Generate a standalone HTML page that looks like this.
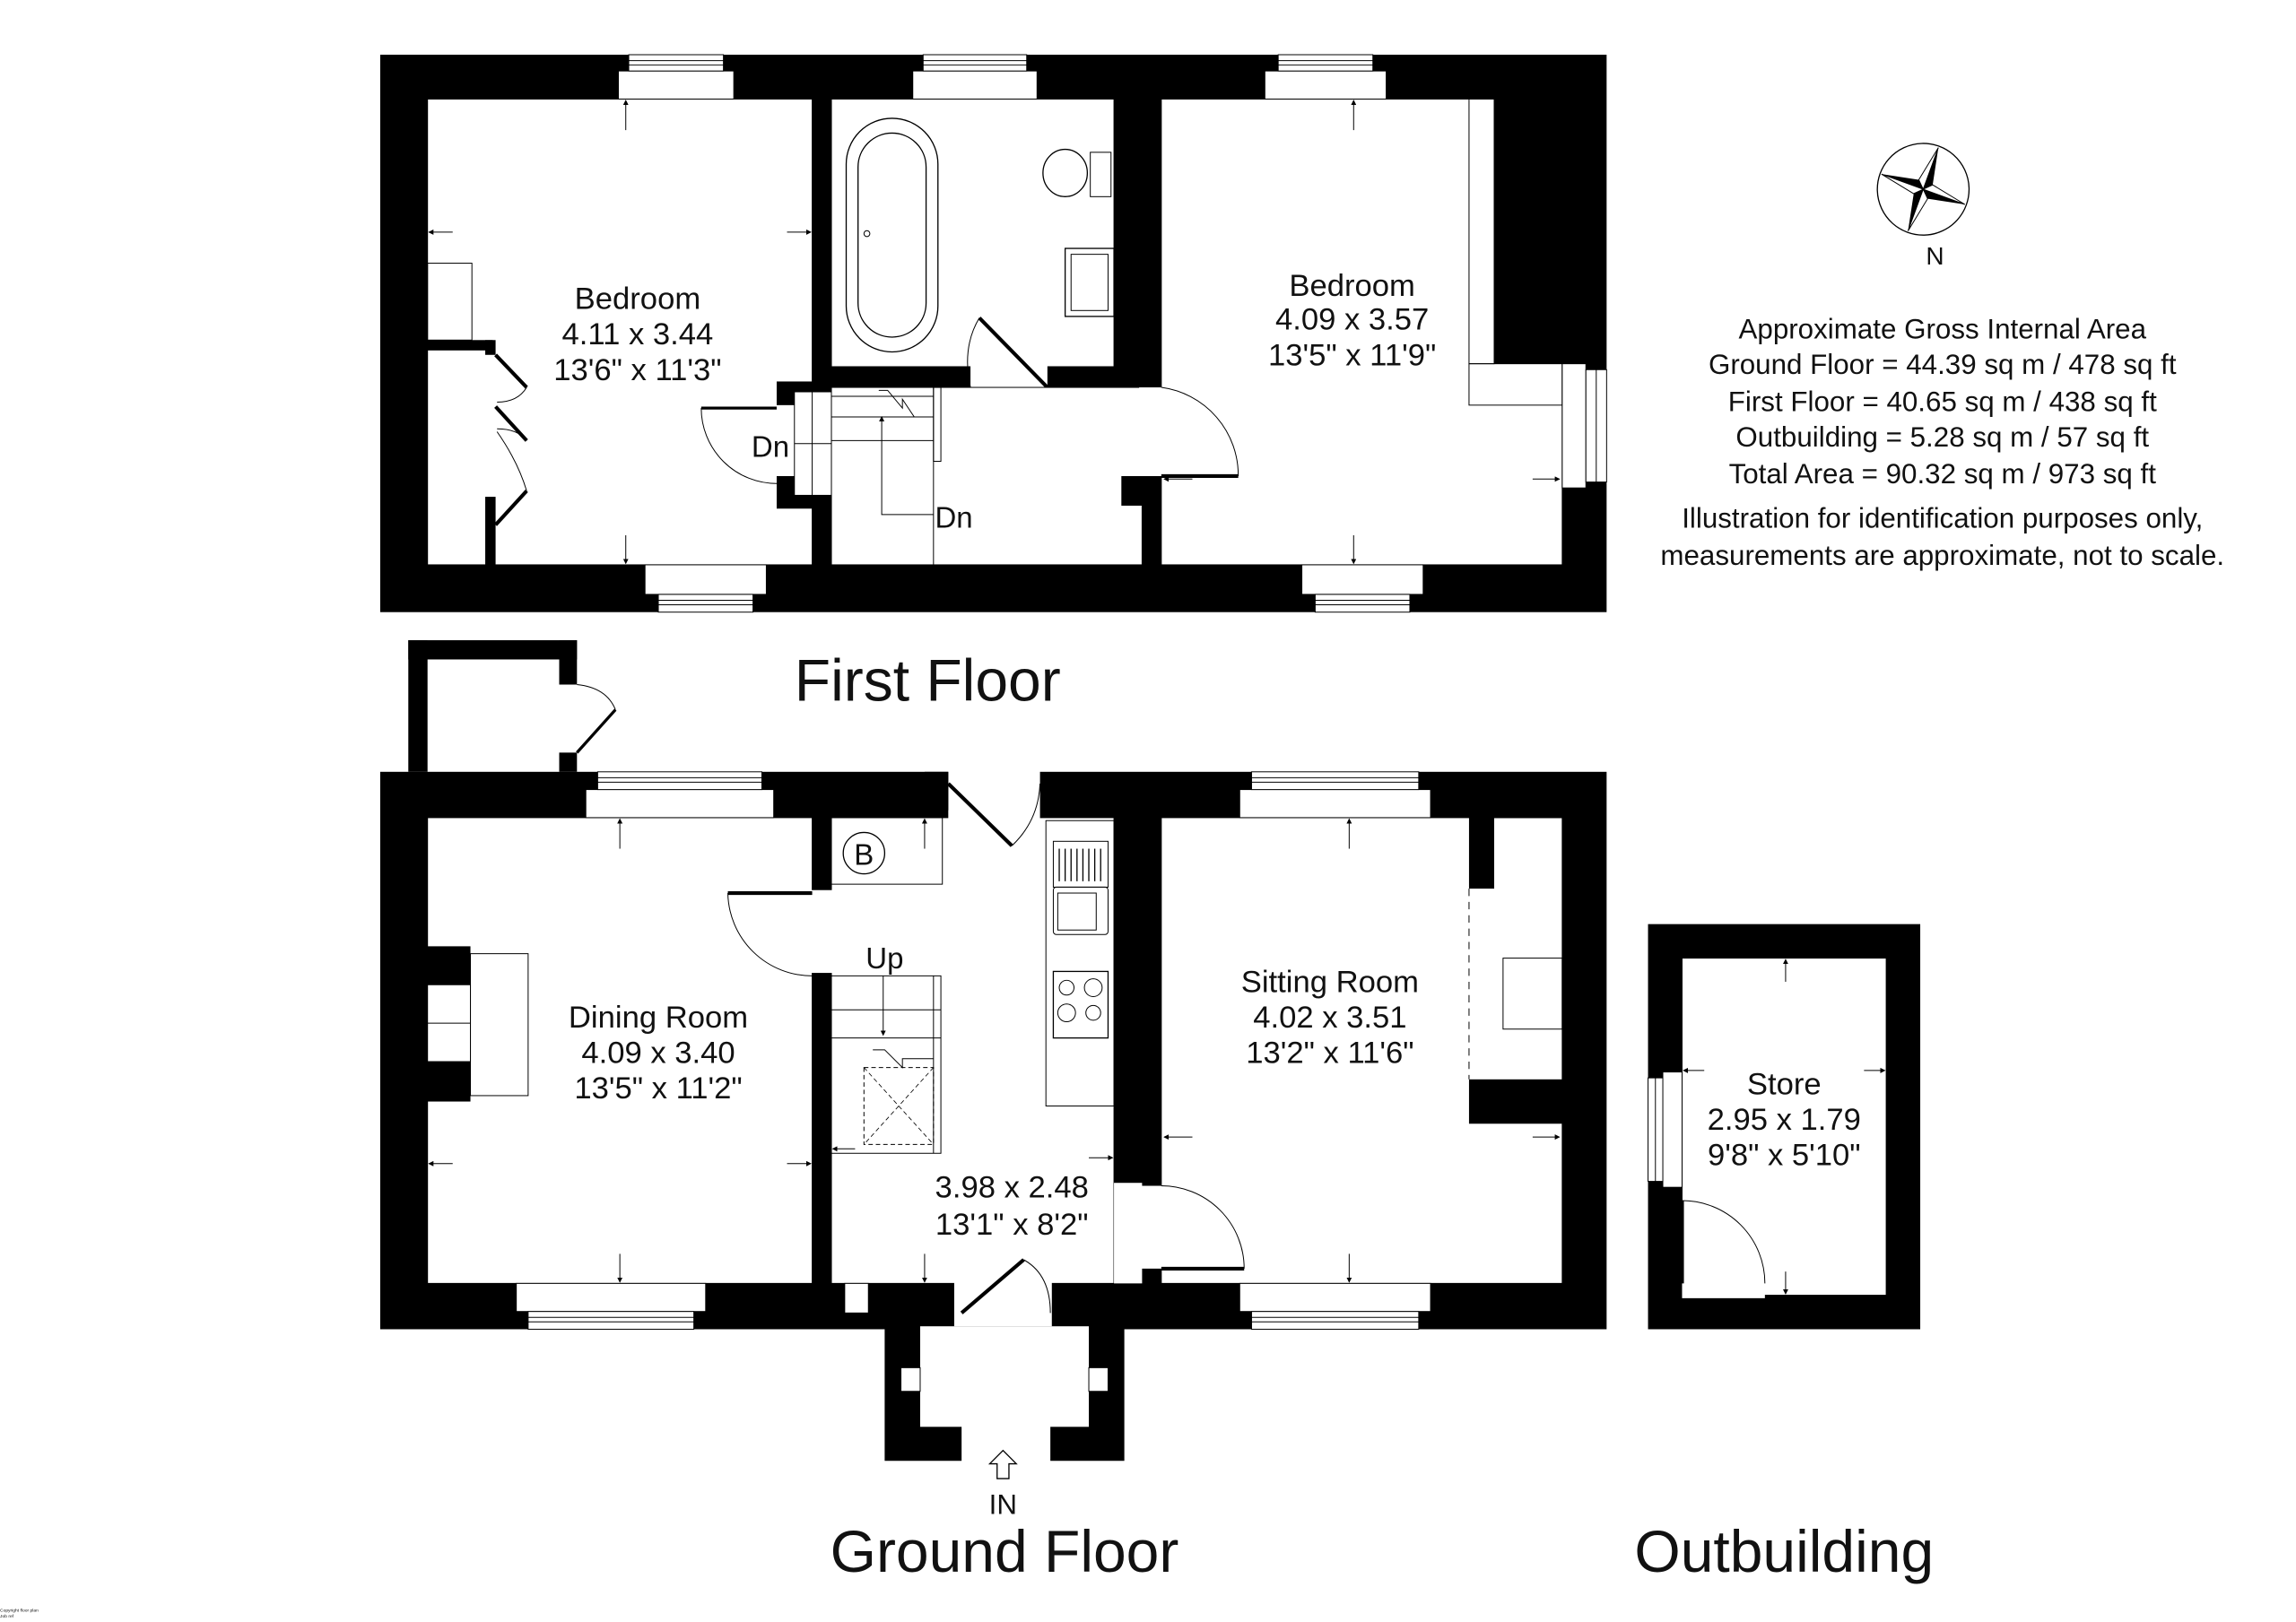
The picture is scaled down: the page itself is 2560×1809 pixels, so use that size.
<!DOCTYPE html>
<html><head><meta charset="utf-8"><style>
html,body{margin:0;padding:0;background:#fff;width:2560px;height:1809px;overflow:hidden}
svg{display:block}
text{font-family:"Liberation Sans",sans-serif;fill:#111}
</style></head><body>
<svg width="2560" height="1809" viewBox="0 0 1552 1097" preserveAspectRatio="none" xmlns="http://www.w3.org/2000/svg">
<defs>
<marker id="ah" markerWidth="6" markerHeight="6" refX="5" refY="3" orient="auto"><path d="M0,0 L6,3 L0,6 z" fill="#000"/></marker>
</defs>
<rect width="1552" height="1097" fill="#fff"/>

<!-- ===== FIRST FLOOR ===== -->
<rect x="257" y="37" width="829" height="377" fill="#000"/>
<rect x="289" y="67" width="260" height="315" fill="#fff"/>
<rect x="289" y="67" width="260" height="315" fill="none" stroke="#000" stroke-width="0.6"/>
<rect x="289" y="230" width="44" height="7" fill="#000"/>
<rect x="328" y="230" width="7" height="10" fill="#000"/>
<rect x="328" y="336" width="7" height="46" fill="#000"/>
<rect x="289" y="178" width="30" height="52" fill="none" stroke="#000" stroke-width="0.6"/>
<path d="M335,240 L356,262 M335,275 L356,298 M335,355 L356,332" stroke="#000" stroke-width="2.5"/>
<path d="M356,262 Q350,272 336,272 M356,298 Q350,290 336,290 M356,332 Q350,312 336,292" stroke="#000" stroke-width="0.6" fill="none"/>
<rect x="525" y="258" width="24" height="16" fill="#000"/>
<rect x="525" y="322" width="24" height="22" fill="#000"/>
<rect x="537" y="265" width="25" height="70" fill="#fff" stroke="#000" stroke-width="0.6"/>
<line x1="549" y1="265" x2="549" y2="335" stroke="#000" stroke-width="0.6"/>
<line x1="537" y1="300" x2="562" y2="300" stroke="#000" stroke-width="0.6"/>
<path d="M474,276 L525,276" stroke="#000" stroke-width="2"/>
<path d="M474,276 A51,51 0 0 0 525,327" stroke="#000" stroke-width="0.6" fill="none"/>
<rect x="562" y="67" width="191" height="181" fill="#fff"/>
<rect x="562" y="67" width="191" height="181" fill="none" stroke="#000" stroke-width="0.6"/>
<rect x="572" y="80" width="62" height="158" rx="31" fill="none" stroke="#000" stroke-width="0.8"/>
<rect x="580" y="90" width="46" height="138" rx="23" fill="none" stroke="#000" stroke-width="0.8"/>
<circle cx="586" cy="158" r="2" fill="none" stroke="#000" stroke-width="0.6"/>
<ellipse cx="720" cy="117" rx="15" ry="16" fill="none" stroke="#000" stroke-width="0.8"/>
<rect x="737" y="103" width="14" height="30" fill="none" stroke="#000" stroke-width="0.6"/>
<rect x="720" y="168" width="33" height="46" fill="none" stroke="#000" stroke-width="0.8"/>
<rect x="724" y="172" width="25" height="38" fill="none" stroke="#000" stroke-width="0.6"/>
<rect x="656" y="246" width="52" height="18" fill="#fff"/>
<line x1="662" y1="215" x2="708" y2="262" stroke="#000" stroke-width="2.5"/>
<path d="M662,215 Q650,235 656,262" stroke="#000" stroke-width="0.6" fill="none"/>
<rect x="562" y="262" width="210" height="120" fill="#fff"/>
<rect x="562" y="262" width="210" height="120" fill="none" stroke="#000" stroke-width="0.6"/>
<rect x="758" y="322" width="14" height="20" fill="#000"/>
<line x1="562" y1="268" x2="631" y2="268" stroke="#000" stroke-width="0.6"/>
<line x1="562" y1="282" x2="631" y2="282" stroke="#000" stroke-width="0.6"/>
<line x1="562" y1="298" x2="631" y2="298" stroke="#000" stroke-width="0.6"/>
<line x1="631" y1="262" x2="631" y2="382" stroke="#000" stroke-width="0.6"/>
<rect x="631" y="262" width="5" height="50" fill="none" stroke="#000" stroke-width="0.6"/>
<path d="M594,264 L600,264 L610,276 L610,270 L618,282" stroke="#000" stroke-width="0.6" fill="none"/>
<path d="M631,348 L596,348 L596,282" stroke="#000" stroke-width="0.6" fill="none" marker-end="url(#ah)"/>
<rect x="785" y="67" width="271" height="315" fill="#fff"/>
<rect x="785" y="67" width="271" height="315" fill="none" stroke="#000" stroke-width="0.6"/>
<rect x="1010" y="67" width="46" height="179" fill="#000"/>
<rect x="993" y="67" width="17" height="179" fill="none" stroke="#000" stroke-width="0.6"/>
<rect x="993" y="246" width="63" height="28" fill="none" stroke="#000" stroke-width="0.6"/>
<rect x="1056" y="246" width="16" height="84" fill="#fff" stroke="#000" stroke-width="0.6"/>
<rect x="1072" y="250" width="14" height="76" fill="#fff" stroke="#000" stroke-width="0.6"/>
<line x1="1079" y1="250" x2="1079" y2="326" stroke="#000" stroke-width="0.6"/>
<rect x="770" y="262" width="17" height="60" fill="#fff"/>
<line x1="785" y1="322" x2="837" y2="322" stroke="#000" stroke-width="2.5"/>
<path d="M785,262 A60,60 0 0 1 837,322" stroke="#000" stroke-width="0.6" fill="none"/>

<g fill="#fff" stroke="#000" stroke-width="0.6">
<rect x="418" y="48" width="78" height="19"/><rect x="425" y="37" width="64" height="11"/><line x1="425" y1="41" x2="489" y2="41"/><line x1="425" y1="44" x2="489" y2="44"/>
<rect x="617" y="48" width="84" height="19"/><rect x="624" y="37" width="70" height="11"/><line x1="624" y1="41" x2="694" y2="41"/><line x1="624" y1="44" x2="694" y2="44"/>
<rect x="855" y="48" width="82" height="19"/><rect x="864" y="37" width="64" height="11"/><line x1="864" y1="41" x2="928" y2="41"/><line x1="864" y1="44" x2="928" y2="44"/>
<rect x="436" y="382" width="82" height="20"/><rect x="445" y="402" width="64" height="12"/><line x1="445" y1="406" x2="509" y2="406"/><line x1="445" y1="409" x2="509" y2="409"/>
<rect x="880" y="382" width="82" height="20"/><rect x="889" y="402" width="64" height="12"/><line x1="889" y1="406" x2="953" y2="406"/><line x1="889" y1="409" x2="953" y2="409"/>
</g>
<g stroke="#000" stroke-width="0.6" marker-end="url(#ah)">
<line x1="423" y1="88" x2="423" y2="68"/><line x1="423" y1="362" x2="423" y2="381"/>
<line x1="306" y1="157" x2="290" y2="157"/><line x1="532" y1="157" x2="548" y2="157"/>
<line x1="915" y1="88" x2="915" y2="68"/><line x1="915" y1="362" x2="915" y2="381"/>
<line x1="806" y1="324" x2="787" y2="324"/><line x1="1036" y1="324" x2="1054" y2="324"/>
</g>
<g font-size="21" text-anchor="middle">
<text x="431" y="209">Bedroom</text><text x="431" y="233">4.11 x 3.44</text><text x="431" y="257">13'6" x 11'3"</text>
<text x="914" y="200">Bedroom</text><text x="914" y="223">4.09 x 3.57</text><text x="914" y="247">13'5" x 11'9"</text>
</g>
<text x="508" y="309" font-size="20">Dn</text>
<text x="632" y="357" font-size="20">Dn</text>
<text x="627" y="474" font-size="40" text-anchor="middle">First Floor</text>

<!-- ===== GROUND FLOOR ===== -->
<rect x="276" y="433" width="13" height="89" fill="#000"/>
<rect x="276" y="433" width="114" height="13" fill="#000"/>
<rect x="378" y="433" width="12" height="30" fill="#000"/>
<rect x="378" y="509" width="12" height="13" fill="#000"/>
<line x1="390" y1="509" x2="416" y2="480" stroke="#000" stroke-width="2"/>
<path d="M390,463 Q410,465 416,480" stroke="#000" stroke-width="0.6" fill="none"/>

<rect x="257" y="522" width="829" height="377" fill="#000"/>
<rect x="289" y="553" width="260" height="315" fill="#fff" stroke="#000" stroke-width="0.6"/>
<rect x="289" y="640" width="29" height="105" fill="#000"/>
<rect x="289" y="666" width="29" height="52" fill="#fff" stroke="#000" stroke-width="0.6"/>
<line x1="289" y1="692" x2="318" y2="692" stroke="#000" stroke-width="0.6"/>
<rect x="318" y="645" width="39" height="96" fill="none" stroke="#000" stroke-width="0.6"/>
<rect x="562" y="553" width="191" height="315" fill="#fff" stroke="#000" stroke-width="0.6"/>
<rect x="641" y="520" width="62" height="35" fill="#fff"/>
<rect x="625" y="522" width="16" height="26" fill="#000"/>
<line x1="641" y1="530" x2="684" y2="572" stroke="#000" stroke-width="2.5"/>
<path d="M684,572 Q702,555 703,530" stroke="#000" stroke-width="0.6" fill="none"/>
<rect x="562" y="553" width="75" height="45" fill="none" stroke="#000" stroke-width="0.6"/>
<circle cx="584" cy="577" r="14" fill="#fff" stroke="#000" stroke-width="0.8"/>
<text x="584" y="585" font-size="20" text-anchor="middle">B</text>
<rect x="547" y="602" width="17" height="56" fill="#fff"/>
<line x1="492" y1="604" x2="549" y2="604" stroke="#000" stroke-width="2.5"/>
<path d="M492,604 A57,57 0 0 0 549,660" stroke="#000" stroke-width="0.6" fill="none"/>
<rect x="562" y="660" width="74" height="120" fill="none" stroke="#000" stroke-width="0.6"/>
<line x1="562" y1="683" x2="636" y2="683" stroke="#000" stroke-width="0.6"/>
<line x1="562" y1="702" x2="636" y2="702" stroke="#000" stroke-width="0.6"/>
<line x1="631" y1="660" x2="631" y2="780" stroke="#000" stroke-width="0.6"/>
<path d="M597,660 L597,700" stroke="#000" stroke-width="0.6" marker-end="url(#ah)"/>
<path d="M590,710 L598,710 L610,722 L610,716 L631,716" stroke="#000" stroke-width="0.6" fill="none"/>
<rect x="584" y="722" width="47" height="52" fill="none" stroke="#000" stroke-width="0.6" stroke-dasharray="3,2"/>
<path d="M584,722 L631,774 M631,722 L584,774" stroke="#000" stroke-width="0.5" stroke-dasharray="3,2"/>
<rect x="707" y="555" width="46" height="193" fill="none" stroke="#000" stroke-width="0.6"/>
<rect x="712" y="569" width="37" height="31" fill="none" stroke="#000" stroke-width="0.6"/>
<g stroke="#000" stroke-width="0.8"><line x1="716" y1="574" x2="716" y2="596"/><line x1="720" y1="574" x2="720" y2="596"/><line x1="724" y1="574" x2="724" y2="596"/><line x1="728" y1="574" x2="728" y2="596"/><line x1="732" y1="574" x2="732" y2="596"/><line x1="736" y1="574" x2="736" y2="596"/><line x1="740" y1="574" x2="740" y2="596"/><line x1="744" y1="574" x2="744" y2="596"/></g>
<rect x="712" y="600" width="37" height="32" rx="2" fill="none" stroke="#000" stroke-width="0.6"/>
<rect x="715" y="604" width="26" height="25" fill="none" stroke="#000" stroke-width="0.6"/>
<rect x="712" y="657" width="37" height="45" fill="none" stroke="#000" stroke-width="0.8"/>
<circle cx="721" cy="668" r="5" fill="none" stroke="#000" stroke-width="0.6"/><circle cx="739" cy="668" r="6" fill="none" stroke="#000" stroke-width="0.6"/>
<circle cx="721" cy="685" r="6" fill="none" stroke="#000" stroke-width="0.6"/><circle cx="739" cy="685" r="5" fill="none" stroke="#000" stroke-width="0.6"/>
<!-- sitting -->
<rect x="785" y="553" width="271" height="315" fill="#fff" stroke="#000" stroke-width="0.6"/>
<rect x="993" y="553" width="17" height="48" fill="#000"/>
<path d="M1010,540 L1070,540 L1070,565 L1056,590 L1056,553" fill="#000"/>
<line x1="1010" y1="553" x2="1056" y2="553" stroke="#000" stroke-width="0.6"/>
<line x1="993" y1="601" x2="993" y2="730" stroke="#000" stroke-width="0.6" stroke-dasharray="5,4"/>
<rect x="1016" y="648" width="40" height="48" fill="none" stroke="#000" stroke-width="0.6"/>
<rect x="993" y="730" width="63" height="30" fill="#000"/>
<!-- hall/sitting wall & door (after sitting fill) -->
<rect x="753" y="800" width="19" height="68" fill="#fff"/>
<rect x="770" y="802" width="17" height="56" fill="#fff"/>
<line x1="785" y1="858" x2="841" y2="858" stroke="#000" stroke-width="2.5"/>
<path d="M785,802 A56,56 0 0 1 841,858" stroke="#000" stroke-width="0.6" fill="none"/>
<!-- front door -->
<rect x="645" y="866" width="66" height="35" fill="#fff"/>
<line x1="650" y1="888" x2="692" y2="852" stroke="#000" stroke-width="2.5"/>
<path d="M692,852 Q710,862 710,888" stroke="#000" stroke-width="0.6" fill="none"/>
<rect x="571" y="868" width="16" height="20" fill="#fff" stroke="#000" stroke-width="0.6"/>
<rect x="598" y="897" width="162" height="91" fill="#000"/>
<rect x="622" y="897" width="114" height="68" fill="#fff"/>
<rect x="650" y="963" width="60" height="26" fill="#fff"/>
<rect x="609" y="925" width="13" height="16" fill="#fff" stroke="#000" stroke-width="0.6"/>
<rect x="736" y="925" width="13" height="16" fill="#fff" stroke="#000" stroke-width="0.6"/>
<path d="M674,1000 L674,990 L669,990 L678,981 L687,990 L682,990 L682,1000 z" fill="#fff" stroke="#000" stroke-width="0.8"/>

<g fill="#fff" stroke="#000" stroke-width="0.6">
<rect x="396" y="534" width="127" height="19"/><rect x="404" y="522" width="111" height="12"/><line x1="404" y1="526" x2="515" y2="526"/><line x1="404" y1="529" x2="515" y2="529"/>
<rect x="838" y="534" width="129" height="19"/><rect x="846" y="522" width="113" height="12"/><line x1="846" y1="526" x2="959" y2="526"/><line x1="846" y1="529" x2="959" y2="529"/>
<rect x="349" y="868" width="128" height="19"/><rect x="357" y="887" width="112" height="12"/><line x1="357" y1="891" x2="469" y2="891"/><line x1="357" y1="894" x2="469" y2="894"/>
<rect x="838" y="868" width="129" height="19"/><rect x="846" y="887" width="113" height="12"/><line x1="846" y1="891" x2="959" y2="891"/><line x1="846" y1="894" x2="959" y2="894"/>
</g>
<g stroke="#000" stroke-width="0.6" marker-end="url(#ah)">
<line x1="419" y1="574" x2="419" y2="554"/><line x1="419" y1="848" x2="419" y2="867"/>
<line x1="306" y1="787" x2="290" y2="787"/><line x1="532" y1="787" x2="548" y2="787"/>
<line x1="625" y1="574" x2="625" y2="554"/>
<line x1="578" y1="777" x2="563" y2="777"/><line x1="736" y1="783" x2="752" y2="783"/>
<line x1="625" y1="848" x2="625" y2="867"/>
<line x1="912" y1="574" x2="912" y2="554"/><line x1="912" y1="848" x2="912" y2="867"/>
<line x1="806" y1="769" x2="787" y2="769"/><line x1="1036" y1="769" x2="1054" y2="769"/>
</g>
<g font-size="21" text-anchor="middle">
<text x="445" y="695">Dining Room</text><text x="445" y="719">4.09 x 3.40</text><text x="445" y="743">13'5" x 11'2"</text>
<text x="899" y="671">Sitting Room</text><text x="899" y="695">4.02 x 3.51</text><text x="899" y="719">13'2" x 11'6"</text>
<text x="684" y="810">3.98 x 2.48</text><text x="684" y="835">13'1" x 8'2"</text>
</g>
<text x="598" y="655" font-size="20" text-anchor="middle">Up</text>
<text x="678" y="1024" font-size="19" text-anchor="middle">IN</text>
<text x="679" y="1063" font-size="40" text-anchor="middle">Ground Floor</text>

<!-- ===== OUTBUILDING ===== -->
<rect x="1114" y="625" width="184" height="274" fill="#000"/>
<rect x="1137" y="648" width="138" height="228" fill="#fff" stroke="#000" stroke-width="0.6"/>
<rect x="1124" y="725" width="13" height="78" fill="#fff" stroke="#000" stroke-width="0.6"/>
<rect x="1114" y="729" width="10" height="70" fill="#fff" stroke="#000" stroke-width="0.6"/>
<line x1="1119" y1="729" x2="1119" y2="799" stroke="#000" stroke-width="0.6"/>
<rect x="1137" y="866" width="56" height="12" fill="#fff"/>
<line x1="1137" y1="812" x2="1137" y2="868" stroke="#000" stroke-width="2.5"/>
<path d="M1137,812 A56,56 0 0 1 1193,868" stroke="#000" stroke-width="0.6" fill="none"/>
<g stroke="#000" stroke-width="0.6" marker-end="url(#ah)">
<line x1="1207" y1="664" x2="1207" y2="649"/><line x1="1207" y1="860" x2="1207" y2="875"/>
<line x1="1152" y1="724" x2="1138" y2="724"/><line x1="1260" y1="724" x2="1274" y2="724"/>
</g>
<g font-size="21" text-anchor="middle">
<text x="1206" y="740">Store</text><text x="1206" y="764">2.95 x 1.79</text><text x="1206" y="788">9'8" x 5'10"</text>
</g>
<text x="1206" y="1063" font-size="40" text-anchor="middle">Outbuilding</text>

<g transform="translate(1300,128) rotate(20)">
<circle r="31" fill="none" stroke="#000" stroke-width="0.8"/>
<path d="M0,-30 L5,-5 L0,0 z" fill="#000"/><path d="M0,-30 L-5,-5 L0,0 z" fill="#fff" stroke="#000" stroke-width="0.6"/>
<path d="M0,30 L-5,5 L0,0 z" fill="#000"/><path d="M0,30 L5,5 L0,0 z" fill="#fff" stroke="#000" stroke-width="0.6"/>
<path d="M30,0 L5,5 L0,0 z" fill="#000"/><path d="M30,0 L5,-5 L0,0 z" fill="#fff" stroke="#000" stroke-width="0.6"/>
<path d="M-30,0 L-5,-5 L0,0 z" fill="#000"/><path d="M-30,0 L-5,5 L0,0 z" fill="#fff" stroke="#000" stroke-width="0.6"/>
</g>
<text x="1308" y="179" font-size="17" text-anchor="middle">N</text>
<g font-size="19" text-anchor="middle">
<text x="1313" y="229">Approximate Gross Internal Area</text>
<text x="1313" y="253">Ground Floor = 44.39 sq m / 478 sq ft</text>
<text x="1313" y="278">First Floor = 40.65 sq m / 438 sq ft</text>
<text x="1313" y="302">Outbuilding = 5.28 sq m / 57 sq ft</text>
<text x="1313" y="327">Total Area = 90.32 sq m / 973 sq ft</text>
<text x="1313" y="357">Illustration for identification purposes only,</text>
<text x="1313" y="382">measurements are approximate, not to scale.</text>
</g>
<g font-size="3" fill="#666"><text x="0" y="1090">Copyright floor plan</text><text x="0" y="1094">Job ref</text></g>
</svg>
</body></html>
